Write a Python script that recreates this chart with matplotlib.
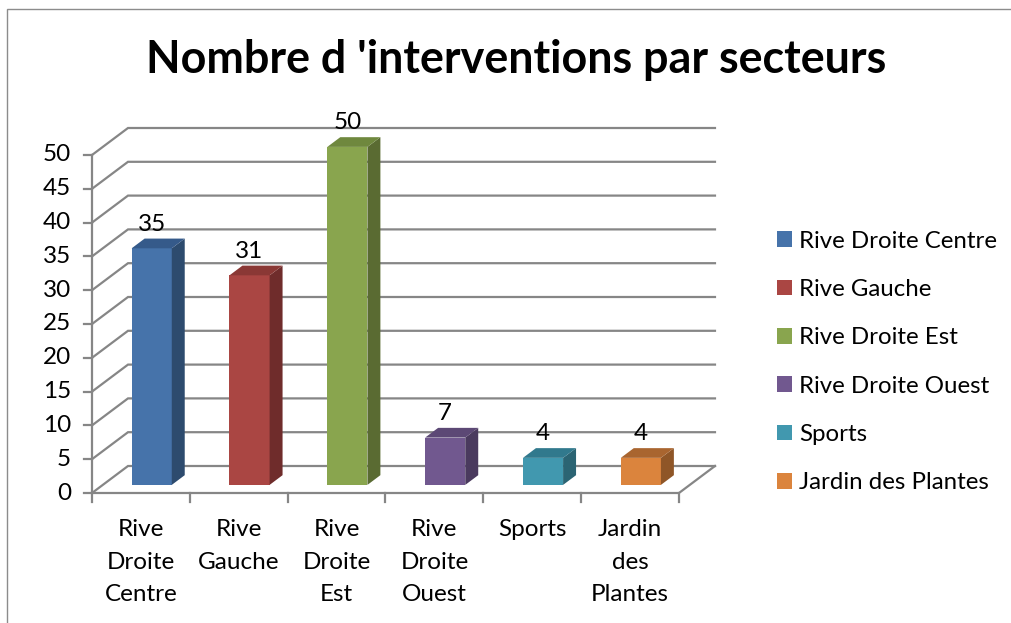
import numpy as np
import matplotlib.pyplot as plt
from matplotlib.patches import Polygon, Rectangle, Patch

plt.rcParams['font.family'] = ['Lato', 'DejaVu Sans']

# Data
categories = ["Rive Droite Centre", "Rive Gauche", "Rive Droite Est",
              "Rive Droite Ouest", "Sports", "Jardin des Plantes"]
axis_labels = ["Rive\nDroite\nCentre", "Rive\nGauche", "Rive\nDroite\nEst",
               "Rive\nDroite\nOuest", "Sports", "Jardin\ndes\nPlantes"]
values = [35, 31, 50, 7, 4, 4]
yticks = list(range(0, 55, 5))
title = "Nombre d 'interventions par secteurs"

front_colors = ['#4673AA', '#AA4643', '#89A54E', '#71588F', '#4198AF', '#DB843D']
side_colors = ['#2D4B6E', '#6F2C2B', '#5A6B32', '#4A3A5E', '#2B6473', '#8F5627']
top_colors = ['#355A8A', '#8A3835', '#6F883E', '#5C4875', '#31798D', '#A9652F']

# Figure, one axes covering everything (1 unit x = one category, 1 unit y = one intervention)
W, H = 1011, 623
fig = plt.figure(figsize=(W / 100, H / 100), dpi=100)
ax = fig.add_axes([0, 0, 1, 1])
x0_px, y0_px = 92, 493
cat_px, unit_px = 97.83, 6.76
ax.set_xlim(-x0_px / cat_px, (W - x0_px) / cat_px)
ax.set_ylim(-(H - y0_px) / unit_px, y0_px / unit_px)
ax.axis('off')

n = len(values)
ymax = yticks[-1]
DX, DY = 36 / cat_px, 27 / unit_px   # depth of the 3d box
grid_c = '#868686'
lw = 1.6

# outer chart border (cut at right and bottom like the source)
ax.add_patch(Rectangle((-85 / cat_px, -(H + 20 - y0_px) / unit_px), (W + 100) / cat_px,
                       (H + 20 - 9) / unit_px, fill=False, ec='#8C8C8C', lw=1.0))

# back wall + left wall gridlines
for v in yticks:
    ax.plot([0, DX, n + DX], [v, v + DY, v + DY], color=grid_c, lw=lw,
            solid_joinstyle='miter', zorder=1)
# floor
ax.plot([0, n, n + DX], [0, 0, DY], color=grid_c, lw=lw, zorder=1)
# vertical axis
ax.plot([0, 0], [0, ymax], color=grid_c, lw=lw, zorder=1)
for v in yticks:
    ax.plot([-8 / cat_px, 0], [v, v], color=grid_c, lw=lw, zorder=1)
    ax.text(-21 / cat_px, v, str(v), ha='right', va='center', fontsize=17.5)
for i in range(n + 1):
    ax.plot([i, i], [0, -9 / unit_px], color=grid_c, lw=lw, zorder=1)

# category labels, line by line
for i, lab in enumerate(axis_labels):
    for k, line in enumerate(lab.split('\n')):
        ax.text(i + 0.5, -(536 + 32.7 * k - y0_px) / unit_px, line,
                ha='center', va='baseline', fontsize=17.5)

# 3d bars
f, d, bw = 0.3, 0.36, 0.41
for i, v in enumerate(values):
    xl = i + 0.5 - bw / 2 + f * DX
    yb = f * DY
    ax.add_patch(Rectangle((xl, yb), bw, v, fc=front_colors[i], ec='none', zorder=3))
    ax.add_patch(Polygon([(xl + bw, yb), (xl + bw + d * DX, yb + d * DY),
                          (xl + bw + d * DX, yb + v + d * DY), (xl + bw, yb + v)],
                         closed=True, fc=side_colors[i], ec='none', zorder=3))
    ax.add_patch(Polygon([(xl, yb + v), (xl + bw, yb + v),
                          (xl + bw + d * DX, yb + v + d * DY), (xl + d * DX, yb + v + d * DY)],
                         closed=True, fc=top_colors[i], ec='none', zorder=3))
    ax.text(xl + bw / 2, yb + v + d * DY + 8 / unit_px, str(v),
            ha='center', va='baseline', fontsize=17.5, zorder=4)

# title
fig.text(516 / W, 1 - 73 / H, title, ha='center', va='baseline',
         fontsize=32.3, fontweight='bold')

# legend
handles = [Patch(fc=c, ec='none') for c in front_colors]
ax.legend(handles, categories, loc='center left',
          bbox_to_anchor=(777 / W, 1 - 362 / H), bbox_transform=fig.transFigure,
          frameon=False, fontsize=17.3, handlelength=0.62, handleheight=0.62,
          handletextpad=0.29, labelspacing=1.14, borderpad=0, borderaxespad=0)

fig.savefig('out.png', dpi=100)
